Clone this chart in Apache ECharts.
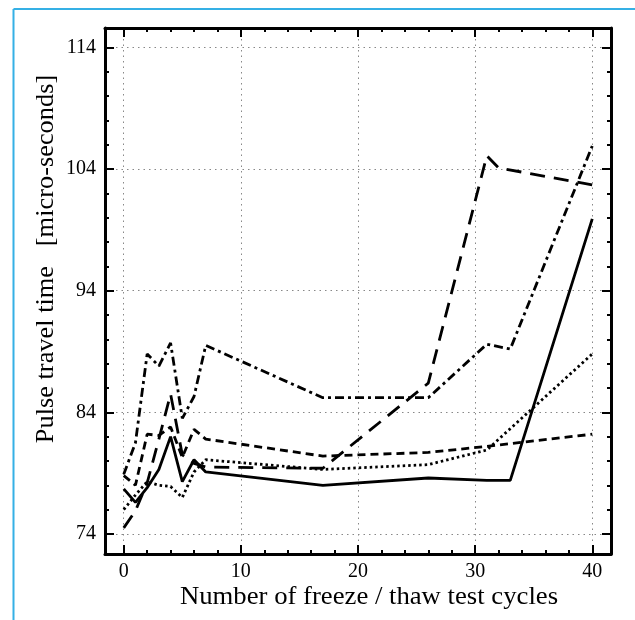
<!DOCTYPE html>
<html>
<head>
<meta charset="utf-8">
<script src="https://cdn.jsdelivr.net/npm/echarts@6/dist/echarts.min.js"></script>
<style>
html,body{margin:0;padding:0;background:#fff;}
#c{width:635px;height:620px;}
</style>
</head>
<body>
<div id="c"></div>
<script>
// ---- data ----
const X_TICKS = [0, 10, 20, 30, 40];
const X_MINOR = [0, 2, 4, 6, 8, 10, 12, 14, 16, 18, 20, 22, 24, 26, 28, 30, 32, 34, 36, 38, 40];
const Y_TICKS = [74, 84, 94, 104, 114];
const Y_MINOR = [74, 76, 78, 80, 82, 84, 86, 88, 90, 92, 94, 96, 98, 100, 102, 104, 106, 108, 110, 112, 114];

const solidX = [0, 1, 2, 3, 4, 5, 6, 7, 17, 26, 31, 33, 40];
const solidY = [77.7, 76.6, 77.8, 79.3, 82.0, 78.3, 80.1, 79.1, 78.0, 78.6, 78.4, 78.4, 99.9];

const dashDotX = [0, 1, 2, 3, 4, 5, 6, 7, 17, 26, 31, 33, 40];
const dashDotY = [78.9, 81.5, 88.8, 87.8, 89.7, 83.5, 85.3, 89.5, 85.2, 85.2, 89.6, 89.2, 105.9];

const longDashX = [0, 1, 2, 3, 4, 5, 6, 7, 17, 26, 31, 32, 40];
const longDashY = [74.5, 75.9, 78.2, 81.8, 85.5, 80.5, 79.8, 79.5, 79.4, 86.4, 105.1, 104.1, 102.7];

const shortDashX = [0, 1, 2, 3, 4, 5, 6, 7, 17, 26, 31, 40];
const shortDashY = [78.8, 78.0, 82.2, 82.1, 82.8, 80.3, 82.6, 81.8, 80.4, 80.7, 81.2, 82.2];

const dottedX = [0, 1, 2, 3, 4, 5, 6, 7, 17, 26, 31, 40];
const dottedY = [76.0, 77.2, 78.3, 78.0, 77.9, 77.0, 79.1, 80.1, 79.3, 79.7, 80.9, 88.8];

const X_TITLE = 'Number of freeze / thaw test cycles';
const Y_TITLE = 'Pulse travel time   [micro-seconds]';

// ---- chart ----
const FONT = 'Liberation Serif, Times New Roman, serif';
const zip = (xs, ys) => xs.map((x, i) => [x, ys[i]]);

const X_MIN = -1.6, X_MAX = 41.6;
const Y_MIN = 72.35, Y_MAX = 115.6;

function xAxisDef(position, custom, len, showLine, showLabel, showSplit) {
  return {
    type: 'value', position: position, min: X_MIN, max: X_MAX,
    axisLine: { show: showLine, onZero: false, lineStyle: { color: '#000', width: 3 } },
    axisTick: { show: true, inside: true, length: len, customValues: custom, lineStyle: { color: '#000', width: 2 } },
    axisLabel: { show: showLabel, customValues: custom, margin: 8, color: '#000', fontFamily: FONT, fontSize: 20 },
    splitLine: { show: showSplit, lineStyle: { color: '#888', width: 1, type: [1.5, 4] } },
    minorTick: { show: false }
  };
}
function yAxisDef(position, custom, len, showLine, showLabel, showSplit) {
  return {
    type: 'value', position: position, min: Y_MIN, max: Y_MAX,
    axisLine: { show: showLine, onZero: false, lineStyle: { color: '#000', width: 3 } },
    axisTick: { show: true, inside: true, length: len, customValues: custom, lineStyle: { color: '#000', width: 2 } },
    axisLabel: { show: showLabel, customValues: custom, margin: 9, color: '#000', fontFamily: FONT, fontSize: 20 },
    splitLine: { show: showSplit, lineStyle: { color: '#888', width: 1, type: [1.5, 4] } },
    minorTick: { show: false }
  };
}

function lineSeries(xs, ys, type) {
  return {
    type: 'line', xAxisIndex: 0, yAxisIndex: 0,
    data: zip(xs, ys), symbol: 'none', animation: false, silent: true,
    lineStyle: { color: '#000', width: 2.8, type: type }
  };
}

const chart = echarts.init(document.getElementById('c'), null, { renderer: 'canvas' });
chart.setOption({
  animation: false,
  backgroundColor: '#fff',
  grid: { left: 105, right: 24, top: 28, bottom: 66, containLabel: false },
  xAxis: [
    xAxisDef('bottom', X_TICKS, 9, true, true, true),
    xAxisDef('bottom', X_MINOR, 4, false, false, false),
    xAxisDef('top', X_TICKS, 9, true, false, false),
    xAxisDef('top', X_MINOR, 4, false, false, false)
  ],
  yAxis: [
    yAxisDef('left', Y_TICKS, 9, true, true, true),
    yAxisDef('left', Y_MINOR, 4, false, false, false),
    yAxisDef('right', Y_TICKS, 9, true, false, false),
    yAxisDef('right', Y_MINOR, 4, false, false, false)
  ],
  series: [
    lineSeries(solidX, solidY, 'solid'),
    lineSeries(dashDotX, dashDotY, [9, 4, 3, 4]),
    lineSeries(longDashX, longDashY, [15, 9]),
    lineSeries(shortDashX, shortDashY, [8, 5]),
    lineSeries(dottedX, dottedY, [2.5, 3])
  ],
  graphic: [
    { type: 'line', silent: true, shape: { x1: 13.5, y1: 9, x2: 13.5, y2: 620 }, style: { stroke: '#35b0e5', lineWidth: 2 } },
    { type: 'line', silent: true, shape: { x1: 13.5, y1: 9, x2: 635, y2: 9 }, style: { stroke: '#35b0e5', lineWidth: 2 } },
    { type: 'text', silent: true, x: 369, y: 597, scaleX: 1.068,
      style: { text: X_TITLE, font: '25px ' + FONT, fill: '#000', align: 'center', verticalAlign: 'middle' } },
    { type: 'text', silent: true, x: 46, y: 259, rotation: Math.PI / 2, scaleX: 1.055,
      style: { text: Y_TITLE, font: '25px ' + FONT, fill: '#000', align: 'center', verticalAlign: 'middle' } }
  ]
});
</script>
</body>
</html>
